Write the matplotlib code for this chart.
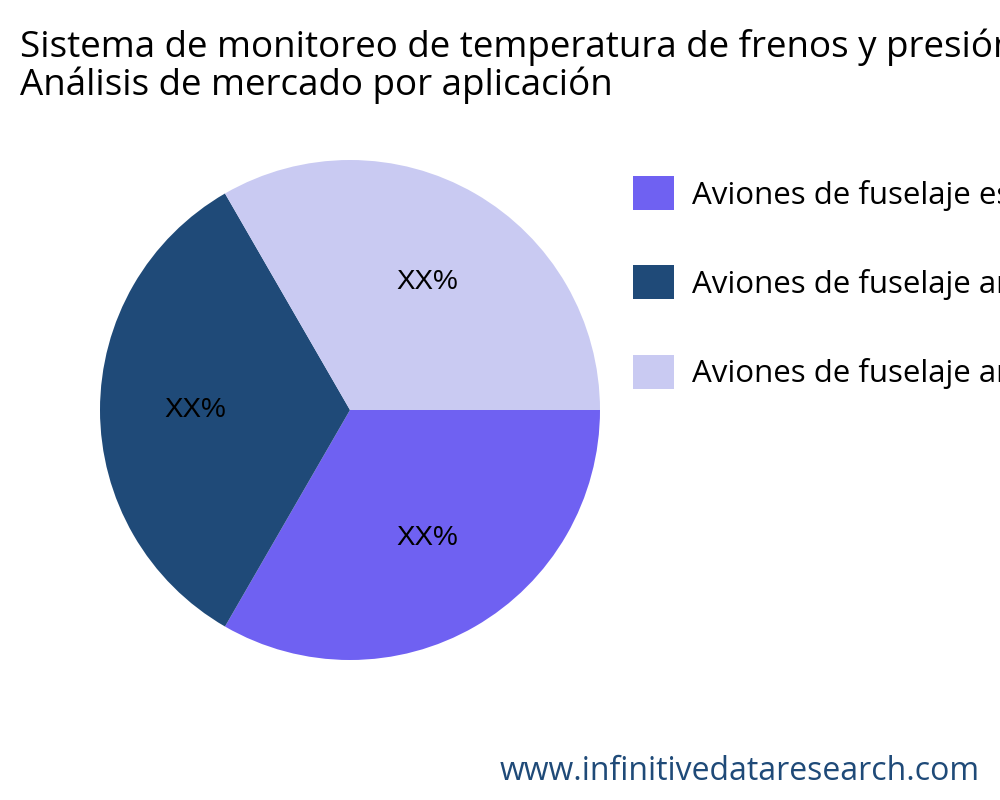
import matplotlib
matplotlib.use("Agg")
import matplotlib.pyplot as plt
import numpy as np

categories = ["Aviones de fuselaje estrecho", "Aviones de fuselaje ancho", "Aviones de fuselaje ancho muy grande"]
values = [1, 1, 1]
labels_txt = ["XX%", "XX%", "XX%"]
colors = ["#6F61F2", "#1F4A78", "#C9CAF2"]

plt.rcParams['font.family'] = ['Open Sans', 'DejaVu Sans']
fig = plt.figure(figsize=(10, 8), dpi=100)
ax = fig.add_axes([0.1, 0.175, 0.5, 0.625])
wedges, _ = ax.pie(values, colors=colors, startangle=0, counterclock=False, radius=1)
for w, t in zip(wedges, labels_txt):
    ang = np.deg2rad((w.theta1 + w.theta2) / 2)
    r = 0.62
    ax.text(r * np.cos(ang) + 0.1 * np.cos(ang) ** 2 * np.sign(np.cos(ang)) * 0, r * np.sin(ang) * 0.95,
            t, ha='center', va='center', fontsize=20, family='Liberation Sans')
ax.set_xlim(-1, 1); ax.set_ylim(-1, 1); ax.set_aspect('equal')

fig.text(0.02, 0.87, "Sistema de monitoreo de temperatura de frenos y presión de neumáticos (BTPMS)\nAnálisis de mercado por aplicación",
         fontsize=26.5, va='bottom', linespacing=1.02)
fig.legend(wedges, categories, loc='upper left', bbox_to_anchor=(0.605, 0.815),
           frameon=False, fontsize=22.5, handlelength=1.3, handleheight=1.3,
           labelspacing=1.75, handletextpad=0.6)
fig.text(0.98, 0.015, "www.infinitivedataresearch.com", ha='right', va='bottom',
         fontsize=23, color='#1F4A78')
fig.savefig("out.png", dpi=100)
